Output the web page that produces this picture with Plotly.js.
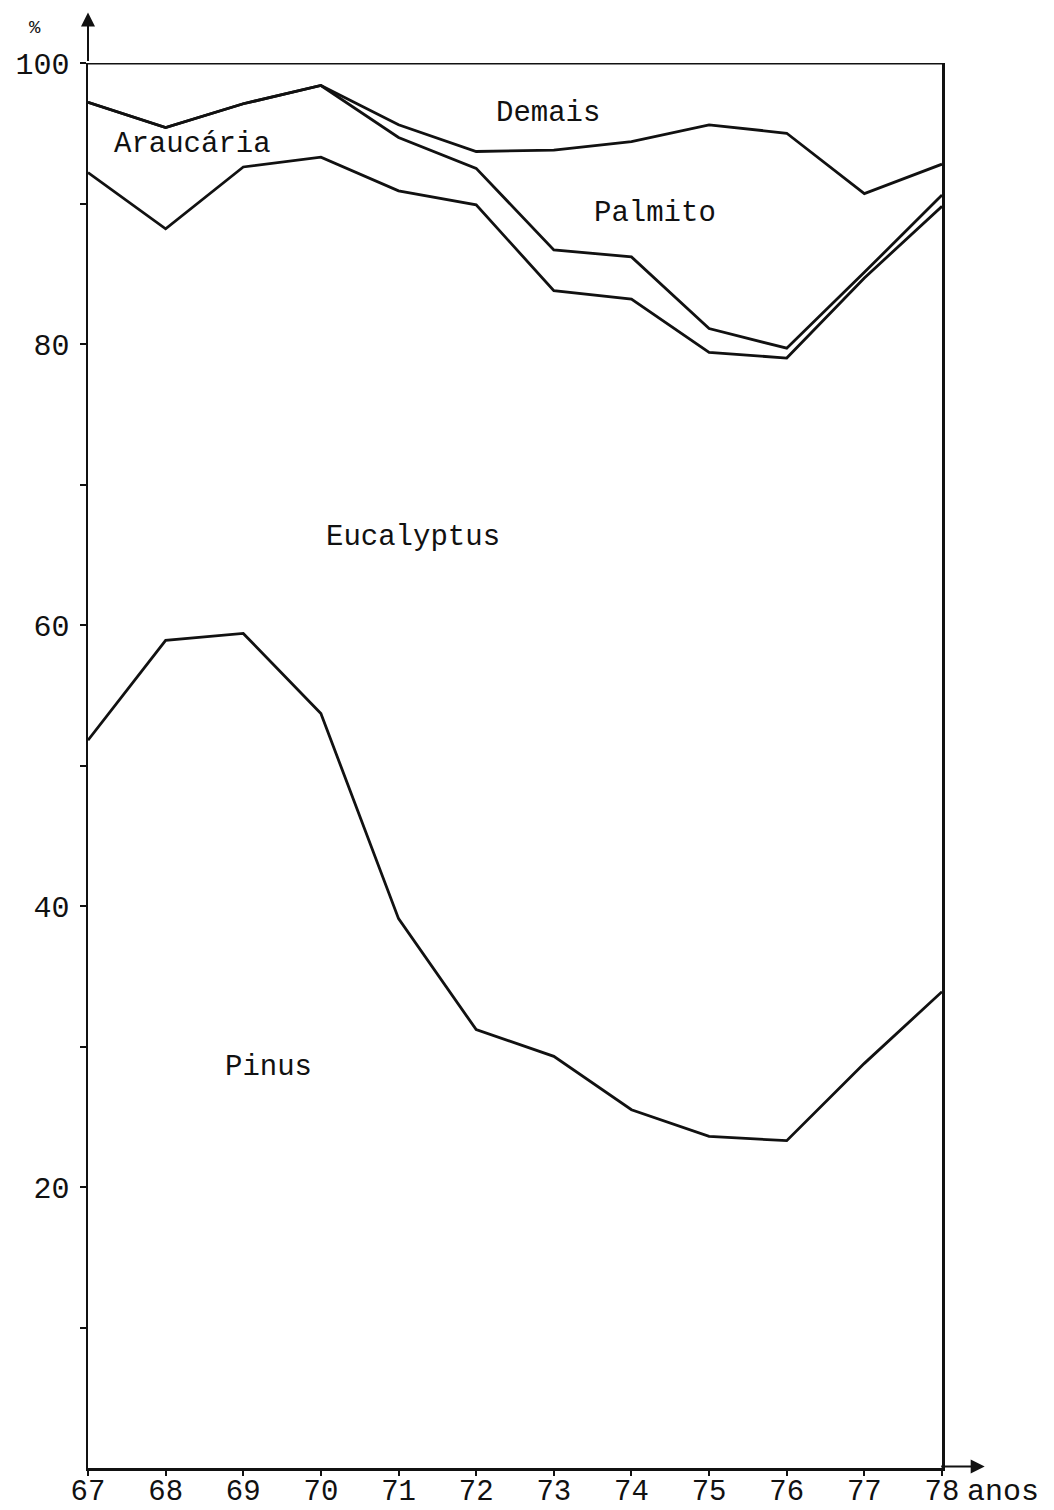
<!DOCTYPE html>
<html>
<head>
<meta charset="utf-8">
<script src="https://cdn.plot.ly/plotly-3.0.1.min.js"></script>
<style>
  html, body { margin: 0; padding: 0; background: #fff; }
  #chart { width: 1054px; height: 1510px; }
</style>
</head>
<body>
<div id="chart"></div>
<script>
// Years (x axis)
const years = [67, 68, 69, 70, 71, 72, 73, 74, 75, 76, 77, 78];

// Cumulative boundaries (% of total)
const pinusTop      = [51.8, 58.9, 59.4, 53.7, 39.1, 31.2, 29.3, 25.5, 23.6, 23.3, 28.8, 33.9];
const eucalyptusTop = [92.2, 88.2, 92.6, 93.3, 90.9, 89.9, 83.8, 83.2, 79.4, 79.0, 84.7, 89.8];
const araucariaTop  = [97.2, 95.4, 97.1, 98.4, 94.7, 92.5, 86.7, 86.2, 81.1, 79.7, 85.1, 90.6];
const palmitoTop    = [97.2, 95.4, 97.1, 98.4, 95.6, 93.7, 93.8, 94.4, 95.6, 95.0, 90.7, 92.8];
const totalTop      = [100, 100, 100, 100, 100, 100, 100, 100, 100, 100, 100, 100];

// Axis tick values / labels
const yTickVals = [10, 20, 30, 40, 50, 60, 70, 80, 90, 100];
const yTickText = ['', '20', '', '40', '', '60', '', '80', '', '100'];
const xTickText = years.map(String);

// Region labels
const regionNames = ['Demais', 'Araucária', 'Palmito', 'Eucalyptus', 'Pinus'];
const regionX     = [72.93, 68.34, 74.3, 71.19, 69.32];
const regionY     = [96.4, 94.2, 89.3, 66.2, 28.5];

const ink = '#111111';
const mono = 'Liberation Mono, DejaVu Sans Mono, monospace';

const series = [pinusTop, eucalyptusTop, araucariaTop, palmitoTop, totalTop];
const traces = series.map(s => ({
  x: years, y: s, type: 'scatter', mode: 'lines',
  line: { color: ink, width: 2.8 },
  hoverinfo: 'skip', showlegend: false
}));

const annotations = regionNames.map((t, i) => ({
  x: regionX[i], y: regionY[i], xref: 'x', yref: 'y',
  xanchor: 'center', yanchor: 'middle',
  text: t, showarrow: false,
  font: { family: mono, size: 29, color: ink }
}));

// % label, anos label
annotations.push({
  xref: 'paper', yref: 'paper', x: -0.062, y: 1.025,
  xanchor: 'center', yanchor: 'middle',
  text: '%', showarrow: false, font: { family: mono, size: 19, color: ink }
});
annotations.push({
  xref: 'paper', yref: 'paper', x: 1.071, y: -0.017,
  xanchor: 'center', yanchor: 'middle',
  text: 'anos', showarrow: false, font: { family: mono, size: 30, color: ink }
});
// axis arrows
annotations.push({
  xref: 'paper', yref: 'paper', x: 0, y: 1.036, ax: 0, ay: 50,
  text: '', showarrow: true, arrowhead: 2, arrowsize: 1.4, arrowwidth: 2, arrowcolor: ink
});
annotations.push({
  xref: 'paper', yref: 'paper', x: 1.05, y: 0.001, ax: -45, ay: 0,
  text: '', showarrow: true, arrowhead: 2, arrowsize: 1.4, arrowwidth: 2, arrowcolor: ink
});

const layout = {
  width: 1054, height: 1510,
  margin: { l: 88, r: 112, t: 63, b: 42, pad: 0 },
  paper_bgcolor: '#fff', plot_bgcolor: '#fff',
  xaxis: {
    range: [67, 78], tickvals: years, ticktext: xTickText,
    showgrid: false, zeroline: false, showline: true, linecolor: ink, linewidth: 2.5,
    ticks: 'outside', ticklen: 5, tickwidth: 2, tickcolor: ink,
    ticklabelstandoff: -10,
    tickfont: { family: mono, size: 29, color: ink },
    automargin: false, fixedrange: true
  },
  yaxis: {
    range: [0, 100], tickvals: yTickVals, ticktext: yTickText,
    showgrid: false, zeroline: false, showline: true, mirror: true, linecolor: ink, linewidth: 2.5,
    ticks: 'outside', ticklen: 6, tickwidth: 2, tickcolor: ink,
    ticklabelstandoff: 4,
    tickfont: { family: mono, size: 30, color: ink },
    automargin: false, fixedrange: true
  },
  annotations: annotations,
  showlegend: false
};

Plotly.newPlot('chart', traces, layout, { displayModeBar: false, staticPlot: true });
</script>
</body>
</html>
